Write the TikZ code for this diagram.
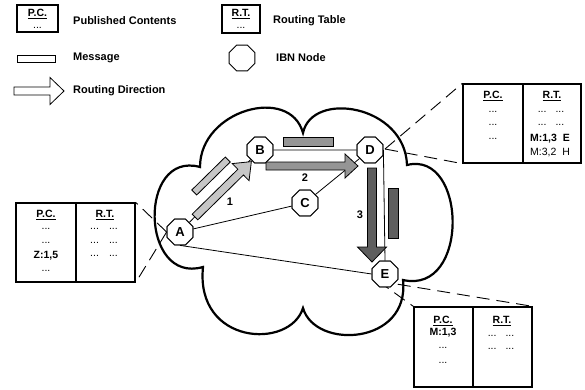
\documentclass[tikz,border=0pt]{standalone}
\usepackage{fontspec}
\setmainfont{Liberation Sans}
\usetikzlibrary{shapes.geometric}
\definecolor{lightg}{HTML}{C6C6C6}
\definecolor{midg}{HTML}{959595}
\definecolor{darkg}{HTML}{5E5E5E}
\newcommand\myfatarrow[8]{\begin{scope}[shift={(#1,#2)},rotate=#3]
\draw[line width=0.8, fill=#8] (0,-#5) -- ({#4-#7},-#5) -- ({#4-#7},-#6) -- (#4,0) -- ({#4-#7},#6) -- ({#4-#7},#5) -- (0,#5) -- cycle;
\end{scope}}
\begin{document}
\begin{tikzpicture}[x=1pt,y=-1pt,
  lbl/.style={font=\fontsize{11}{13}\selectfont\bfseries, anchor=west, inner sep=0},
  bt/.style={font=\fontsize{10.5}{12}\selectfont, inner sep=0},
  bb/.style={font=\fontsize{10.5}{12}\selectfont\bfseries, inner sep=0},
  ibn/.style={regular polygon, regular polygon sides=8, minimum size=28, inner sep=0, draw, fill=white, line width=0.9, font=\fontsize{13}{15}\selectfont\bfseries},
  msg/.style={draw, line width=0.8, inner sep=0},
  callbox/.style={draw, line width=1.3, fill=white, inner sep=0},
  callout/.style={dash pattern=on 13pt off 7pt, line width=0.9},
  edge/.style={line width=0.8},
  num/.style={font=\fontsize{11}{13}\selectfont\bfseries, inner sep=0}]
\useasboundingbox (0,0) rectangle (585,390);

% ---------- legend ----------
\node[callbox, minimum width=41, minimum height=27] (lpc) at (37.5,18.5) {};
\node[bb] (lpct) at (37.5,14) {\underline{P.C.}};
\node[bt] (lpcd) at (37.5,27.5) {...};
\node[lbl] (lpcl) at (73,21) {Published Contents};

\node[callbox, minimum width=38, minimum height=28] (lrt) at (241,19) {};
\node[bb] (lrtt) at (241,14) {\underline{R.T.}};
\node[bt] (lrtd) at (241,27.5) {...};
\node[lbl] (lrtl) at (273,21) {Routing Table};

\node[msg, fill=white, minimum width=38, minimum height=7] (lmsg) at (36,58.5) {};
\node[lbl] (lmsgl) at (73,58) {Message};

\node[ibn] (lnode) at (242,58) {};
\node[lbl] (lnodel) at (276,58) {IBN Node};

\myfatarrow{14}{91}{0}{50}{4}{13.5}{14}{white}
\node[lbl] (ldirl) at (73,91) {Routing Direction};

% ---------- cloud ----------
\draw[line width=2.2, fill=white] (200,167) .. controls (200,110) and (290,85) .. (303,133)
  .. controls (312,90) and (405,105) .. (407,165)
  .. controls (467,150) and (470,295) .. (403,280)
  .. controls (410,345) and (315,350) .. (303,308)
  .. controls (290,350) and (195,345) .. (203,267)
  .. controls (140,285) and (138,150) .. (200,167) -- cycle;

% ---------- nodes ----------
\node[ibn] (A) at (180,232) {A};
\node[ibn] (B) at (260,150) {B};
\node[ibn] (C) at (305,203) {C};
\node[ibn] (D) at (370,150) {D};
\node[ibn] (E) at (385,274) {E};
\coordinate (Dc) at (385,149);
\coordinate (Ec) at (378,281);

% ---------- callout boxes ----------
\node[callbox, minimum width=119, minimum height=79] (bA) at (75.5,242.5) {};
\draw[line width=1.3] (76,203) -- (76,282);
\node[callbox, minimum width=118, minimum height=79] (bD) at (522,123.5) {};
\draw[line width=1.3] (523,84) -- (523,163);
\node[callbox, minimum width=118, minimum height=80] (bE) at (473,347) {};
\draw[line width=1.3] (473,307) -- (473,387);

% callout lines
\draw[callout] (A.west) -- (bA.north east);
\draw[callout] (A.west) -- (bA.south east);
\draw[callout] (Dc) -- (bD.north west);
\draw[callout] (Dc) -- (bD.south west);
\draw[callout] (Ec) -- (bE.north west);
\draw[callout] (Ec) -- (bE.north east);

% box A texts
\node[bb] (a1) at (46,215) {\underline{P.C.}};
\node[bt] (a2) at (46,229) {...};
\node[bt] (a3) at (46,243) {...};
\node[bb] (a4) at (46,256) {Z:1,5};
\node[bt] (a5) at (46,271) {...};
\node[bb] (a6) at (105,215) {\underline{R.T.}};
\node[bt] (a7) at (104,229) {...\hspace{10pt}...};
\node[bt] (a8) at (104,243) {...\hspace{10pt}...};
\node[bt] (a9) at (104,256) {...\hspace{10pt}...};

% box D texts
\node[bb] (d1) at (493,96) {\underline{P.C.}};
\node[bt] (d2) at (493,112) {...};
\node[bt] (d3) at (493,125) {...};
\node[bt] (d4) at (493,139) {...};
\node[bb] (d5) at (552,96) {\underline{R.T.}};
\node[bt] (d6) at (551,112) {...\hspace{9pt}...};
\node[bt] (d7) at (551,125) {...\hspace{9pt}...};
\node[bb] (d8) at (550,139) {M:1,3\hspace{6pt}E};
\node[bt] (d9) at (550,153) {M:3,2\hspace{6pt}H};

% box E texts
\node[bb] (e1) at (443,321) {\underline{P.C.}};
\node[bb] (e2) at (443,333) {M:1,3};
\node[bt] (e3) at (443,348) {...};
\node[bt] (e4) at (443,363) {...};
\node[bb] (e5) at (502,321) {\underline{R.T.}};
\node[bt] (e6) at (501,336) {...\hspace{9pt}...};
\node[bt] (e7) at (501,349) {...\hspace{9pt}...};

% ---------- edges ----------
\draw[edge] (A) -- (B);
\draw[edge] (B) -- (D);
\draw[edge] (A) -- (C);
\draw[edge] (C) -- (D);
\draw[edge] (A.south) -- (E.west);
\draw[edge] (D.east) -- (E.north);

% ---------- messages ----------
\node[msg, fill=lightg, rotate=44.5, minimum width=47, minimum height=7] (m1) at (211,176) {};
\node[msg, fill=midg, minimum width=50, minimum height=9] (m2) at (308,141.5) {};
\node[msg, fill=darkg, minimum width=10, minimum height=50] (m3) at (393,213) {};

% ---------- routing arrows ----------
\myfatarrow{195}{217}{44.5}{79}{4}{12}{15}{lightg}
\myfatarrow{266}{166}{0}{92}{4}{12}{13}{midg}
\myfatarrow{372}{168}{-90}{94}{4.5}{14.5}{15}{darkg}
\node[num] (n1) at (230,202) {1};
\node[num] (n2) at (305,178) {2};
\node[num] (n3) at (360,215) {3};

% redraw nodes on top
\node[ibn] at (A) {A};
\node[ibn] at (B) {B};
\node[ibn] at (C) {C};
\node[ibn] at (D) {D};
\node[ibn] at (E) {E};
\end{tikzpicture}
\end{document}
